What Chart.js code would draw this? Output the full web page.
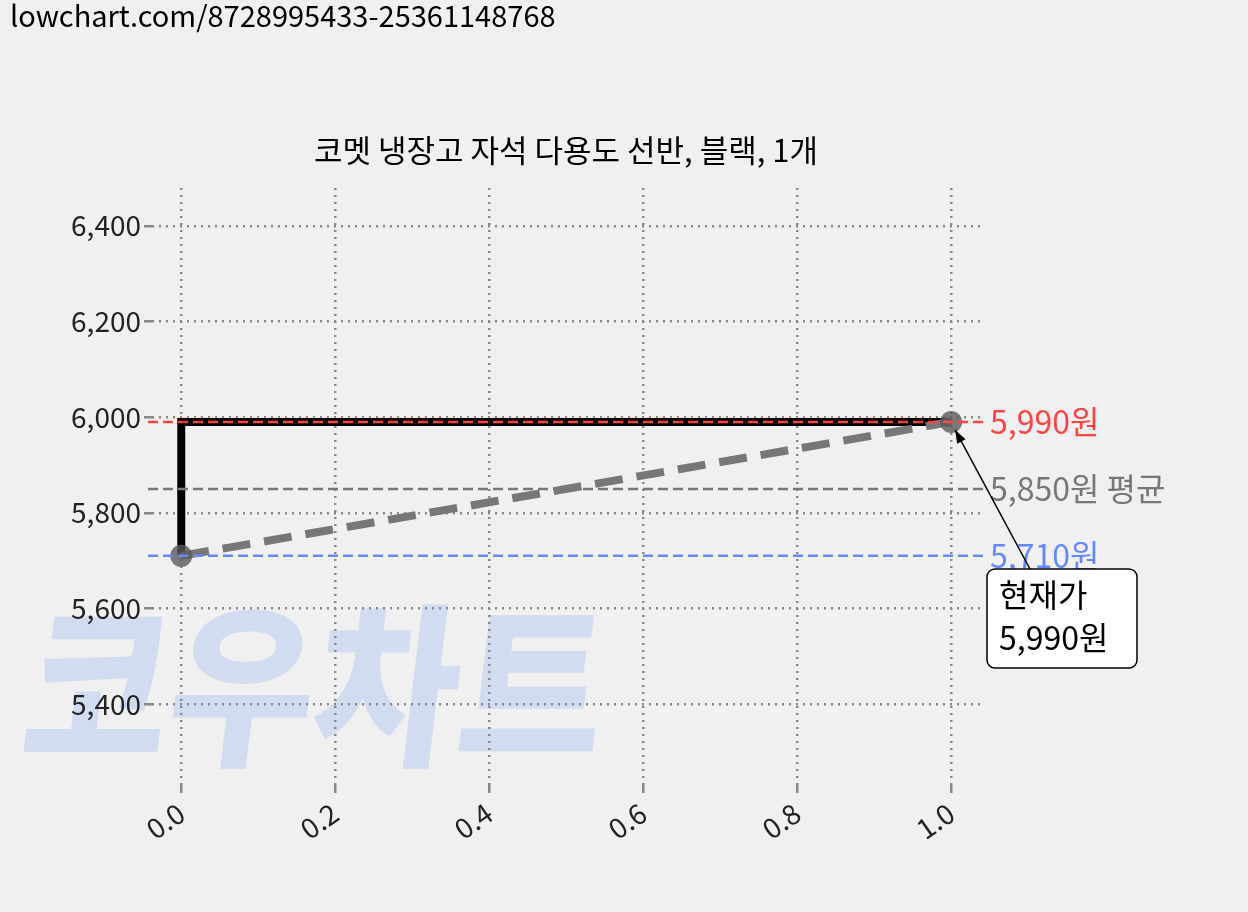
<!DOCTYPE html><html><head><meta charset="utf-8">
<script src="https://cdn.jsdelivr.net/npm/chart.js@4"></script>
<style>body{margin:0;background:#f0f0f0}#w{width:1248px;height:912px}</style></head><body><div id="w"><canvas id="c" width="1248" height="912"></canvas></div>
<script>
const title='코멧 냉장고 자석 다용도 선반, 블랙, 1개';
const urlText='lowchart.com/8728995433-25361148768';
const stepX=[0,0,1];
const stepY=[5710,5990,5990];
const trendX=[0,1];
const trendY=[5710,5990];
const maxPrice=5990, avgPrice=5850, minPrice=5710, curPrice=5990;
const xTicks=[0,0.2,0.4,0.6,0.8,1.0];
const F='"Noto Sans CJK KR", "Noto Sans", sans-serif';
const deco={id:'deco',
 beforeDraw(ch){const c=ch.ctx;c.save();c.fillStyle='#f0f0f0';c.fillRect(0,0,1248,912);
  c.font='900 175px '+F;c.fillStyle='rgba(180,200,240,0.5)';c.textBaseline='alphabetic';
  c.translate(0,752);c.transform(1,0,-0.12,1,0,0);c.scale(0.9,1.0);c.fillText('코우차트',20,0);c.restore();},
 afterDatasetsDraw(ch){const c=ch.ctx,y=ch.scales.y,x=ch.scales.x;c.save();
  const L=[[maxPrice,'#ff4444',maxPrice.toLocaleString()+'원'],[avgPrice,'#777',avgPrice.toLocaleString()+'원 평균'],[minPrice,'#6688ff',minPrice.toLocaleString()+'원']];
  c.lineWidth=2.5;c.font='32px '+F;c.textBaseline='middle';
  for(const [v,col,t] of L){const py=y.getPixelForValue(v);c.strokeStyle=col;c.setLineDash([10,5]);c.beginPath();c.moveTo(148,py);c.lineTo(985,py);c.stroke();c.fillStyle=col;c.fillText(t,990,py);}
  c.setLineDash([]);
  const tx=x.getPixelForValue(1),ty=y.getPixelForValue(curPrice)+8;
  c.strokeStyle='#000';c.lineWidth=1.5;c.beginPath();c.moveTo(1030,569);c.lineTo(tx+4,ty);c.stroke();
  const a=Math.atan2(ty-569,tx+4-1030);c.fillStyle='#000';c.beginPath();c.moveTo(tx+4,ty);c.lineTo(tx+4-14*Math.cos(a-0.35),ty-14*Math.sin(a-0.35));c.lineTo(tx+4-14*Math.cos(a+0.35),ty-14*Math.sin(a+0.35));c.fill();
  c.fillStyle='#fff';c.beginPath();c.roundRect(987,569,150,99,8);c.fill();c.stroke();
  c.fillStyle='#000';c.font='32px '+F;c.textBaseline='alphabetic';c.fillText('현재가',999,607);c.fillText(curPrice.toLocaleString()+'원',999,650);
  c.font='31px '+F;c.textAlign='center';c.fillText(title,566,162);
  c.textAlign='left';c.font='29px '+F;c.fillText(urlText,10,27);c.restore();}};
new Chart(document.getElementById('c'),{type:'scatter',
 data:{datasets:[
  {data:stepX.map((v,i)=>({x:v,y:stepY[i]})),showLine:true,borderColor:'#000',borderWidth:8,pointRadius:0,order:2},
  {data:trendX.map((v,i)=>({x:v,y:trendY[i]})),showLine:true,borderColor:'#777',borderWidth:8,borderDash:[28,14],pointRadius:11,pointBackgroundColor:'rgba(90,90,90,0.8)',pointBorderWidth:0,order:1}]},
 options:{responsive:false,animation:false,devicePixelRatio:1,
  layout:{padding:{top:188,right:263,left:0,bottom:0}},
  plugins:{legend:{display:false},title:{display:false},tooltip:{enabled:false}},
  scales:{
   x:{type:'linear',min:-0.038,max:1.044,afterBuildTicks(s){s.ticks=xTicks.map(v=>({value:v}));},afterFit(s){s.height=127;},
    border:{display:false,dash:[2,5]},grid:{color:'#888',lineWidth:2.5,tickLength:8},
    ticks:{includeBounds:false,maxRotation:35,minRotation:35,font:{size:28,family:F},color:'#222',callback:v=>v.toFixed(1)}},
   y:{min:5231,max:6479,afterFit(s){s.width=152;},border:{display:false,dash:[2,5]},grid:{color:'#888',lineWidth:2.5,tickLength:8},
    ticks:{includeBounds:false,stepSize:200,font:{size:28,family:F},color:'#222',callback:v=>v.toLocaleString()}}}},
 plugins:[deco]});
</script></body></html>
